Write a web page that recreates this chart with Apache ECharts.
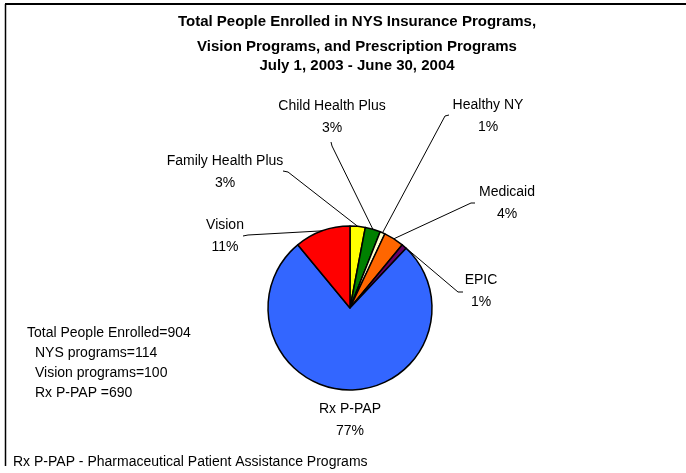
<!DOCTYPE html>
<html>
<head>
<meta charset="utf-8">
<script src="https://cdn.jsdelivr.net/npm/echarts@6/dist/echarts.min.js"></script>
<style>
html,body{margin:0;padding:0;background:#fff;}
#chart{width:686px;height:473px;}
</style>
</head>
<body>
<div id="chart"></div>
<script>
// ---- data ----
var categories = ['Family Health Plus', 'Child Health Plus', 'Healthy NY', 'Medicaid', 'EPIC', 'Rx P-PAP', 'Vision'];
var percents = [3, 3, 1, 4, 1, 77, 11];
var titleLines = [
  'Total People Enrolled in NYS Insurance Programs,',
  'Vision Programs, and Prescription Programs',
  'July 1, 2003 - June 30, 2004'
];
var summaryLabels = ['Total People Enrolled', 'NYS programs', 'Vision programs', 'Rx P-PAP '];
var summaryValues = [904, 114, 100, 690];
var footnote = 'Rx P-PAP - Pharmaceutical Patient Assistance Programs';

// ---- styles / layout ----
var sliceColors = ['#FFFF00', '#008000', '#FFFFCC', '#FF6600', '#660066', '#3366FF', '#FF0000'];
var FONT = '"Liberation Sans", Arial, sans-serif';
// label text center and leader line elbow/end
var labelPlacement = [
  {x: 225, y: 172, pts: [[288, 172], [283, 171]]},
  {x: 332, y: 117, pts: [[332, 146], [331, 142]]},
  {x: 488, y: 116, pts: [[445, 116], [449, 115]]},
  {x: 507, y: 203, pts: [[471, 203], [475, 203]]},
  {x: 481, y: 291, pts: [[458, 292], [463, 292]]},
  {x: 350, y: 420, pts: null},
  {x: 225, y: 236, pts: [[248, 235], [243, 236]]}
];

var chart = echarts.init(document.getElementById('chart'), null, {renderer: 'canvas'});

var pieData = categories.map(function (c, i) {
  return {
    name: c,
    value: percents[i],
    itemStyle: {color: sliceColors[i]},
    labelLine: {show: labelPlacement[i].pts !== null}
  };
});

var graphics = [];
// frame
graphics.push({type: 'line', shape: {x1: 5, y1: 4, x2: 686, y2: 4}, style: {stroke: '#000', lineWidth: 2}, silent: true});
graphics.push({type: 'line', shape: {x1: 5.5, y1: 4, x2: 5.5, y2: 466}, style: {stroke: '#000', lineWidth: 1.5}, silent: true});
// title
var titleY = [22, 47, 66];
titleLines.forEach(function (t, i) {
  graphics.push({type: 'text', style: {text: t, x: 357, y: titleY[i], align: 'center', verticalAlign: 'middle',
    font: 'bold 15px ' + FONT, fill: '#000'}});
});
// summary
summaryLabels.forEach(function (t, i) {
  graphics.push({type: 'text', style: {text: t + '=' + summaryValues[i], x: i === 0 ? 27 : 35, y: 333 + i * 20,
    align: 'left', verticalAlign: 'middle', font: '14px ' + FONT, fill: '#000'}});
});
graphics.push({type: 'text', style: {text: footnote, x: 13, y: 462, align: 'left', verticalAlign: 'middle',
  font: '14px ' + FONT, fill: '#000'}});

chart.setOption({
  backgroundColor: '#fff',
  animation: false,
  graphic: graphics,
  series: [{
    type: 'pie',
    center: [350, 308],
    radius: 82,
    startAngle: 90,
    clockwise: true,
    avoidLabelOverlap: false,
    itemStyle: {borderColor: '#000', borderWidth: 1.5},
    label: {
      show: true,
      position: 'outside',
      formatter: '{b}\n{c}%',
      fontFamily: FONT,
      fontSize: 14,
      color: '#000',
      lineHeight: 22,
      align: 'center'
    },
    labelLine: {show: true, lineStyle: {color: '#000', width: 1}},
    labelLayout: function (params) {
      var p = labelPlacement[params.dataIndex];
      var res = {x: p.x, y: p.y, align: 'center', verticalAlign: 'middle'};
      if (p.pts && params.labelLinePoints) {
        res.labelLinePoints = [params.labelLinePoints[0]].concat(p.pts);
      }
      return res;
    },
    emphasis: {disabled: true},
    data: pieData
  }]
});
</script>
</body>
</html>
